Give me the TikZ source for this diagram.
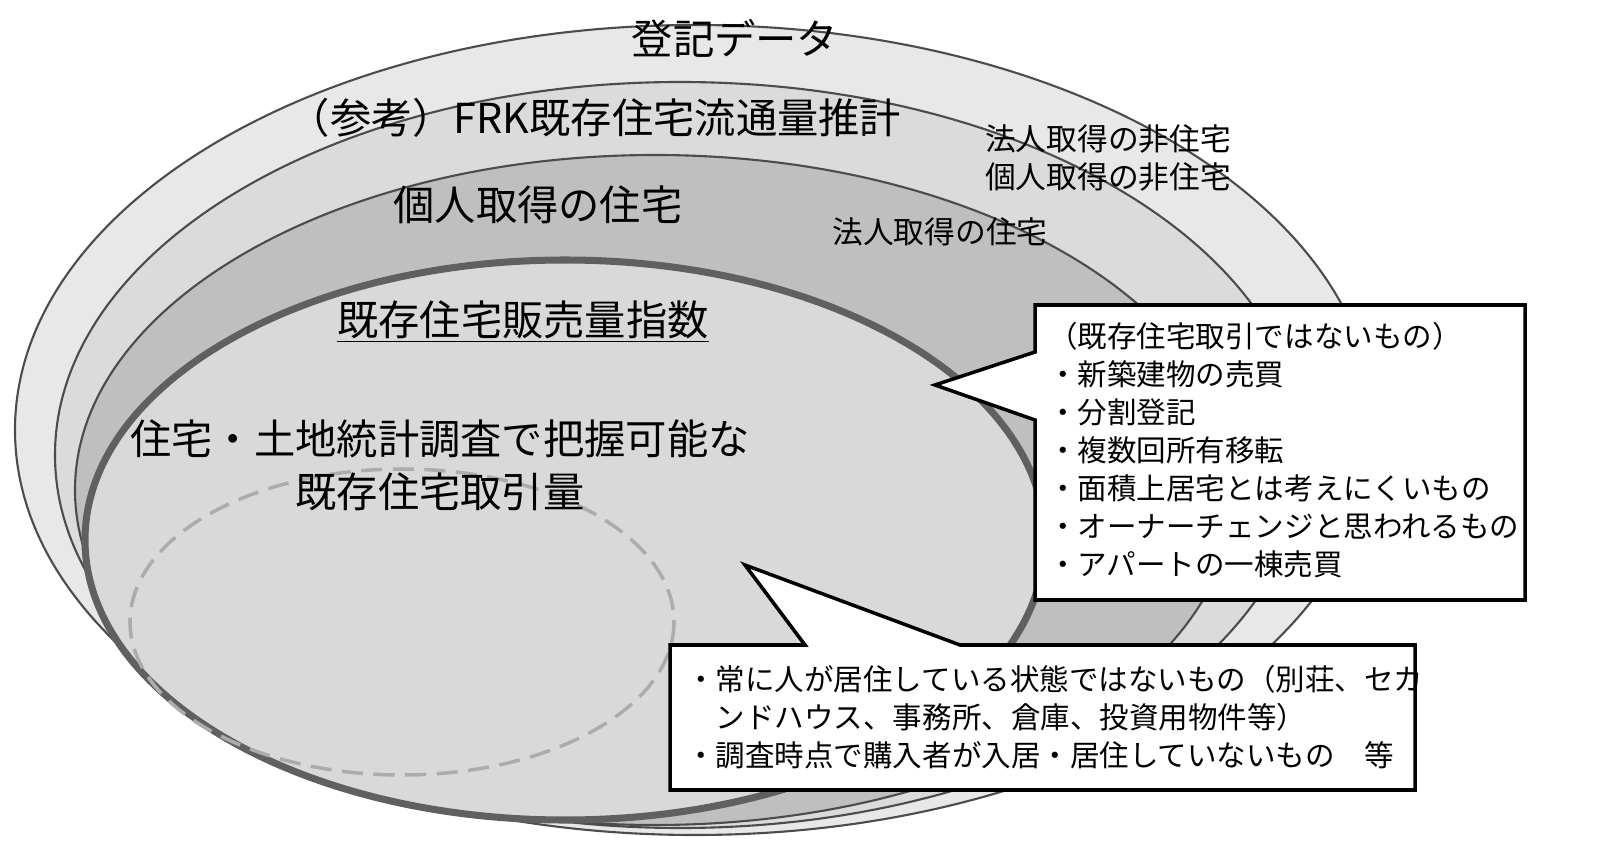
\documentclass[tikz,border=0pt]{standalone}
\usepackage{fontspec}
\setmainfont{Noto Sans CJK JP}
\begin{document}
\begin{tikzpicture}[x=0.02cm,y=-0.02cm,
    ring/.style={draw=gray!60!black, line width=1.2pt},
    lbl/.style={font=\fontsize{17.5}{21.5}\selectfont, inner sep=0pt},
    big/.style={font=\fontsize{23.5}{30}\selectfont, inner sep=0pt},
    note/.style={font=\fontsize{16.8}{21.6}\selectfont, align=left, inner sep=0pt},
    callout/.style={draw=black, line width=2pt, fill=white}]
    \useasboundingbox (0,0) rectangle (1609,858);

    % Rings.
    \filldraw[ring, fill=gray!18] (695,430) ellipse (680 and 405);
    \filldraw[ring, fill=gray!28] (680,455) ellipse (625 and 373);
    \filldraw[ring, fill=gray!50] (655,490) ellipse (580 and 335);
    \filldraw[draw=gray!75!black, line width=4pt, fill=gray!30] (565,540) ellipse (480 and 280);
    \draw[gray!65, line width=2pt, dash pattern=on 12pt off 6pt] (402,622) ellipse (272 and 153);

    % Labels.
    \node[big] (reg) at (735,38) {登記データ};
    \node[big] (frk) at (595,118) {（参考）FRK既存住宅流通量推計};
    \node[big] (kojin) at (538,205) {個人取得の住宅};
    \node[big] (hanbai) at (523,322) {\underline{既存住宅販売量指数}};
    \node[big, align=center] (chosa) at (440,465) {住宅・土地統計調査で把握可能な\\既存住宅取引量};
    \node[lbl, align=left] (hiju) at (1108,158) {法人取得の非住宅\\個人取得の非住宅};
    \node[lbl] (hojin) at (940,232) {法人取得の住宅};

    % Callout right.
    \draw[callout] (1035,305) -- (1525,305) -- (1525,600) -- (1035,600) -- (1035,420)
        -- (935,385) -- (1035,352) -- cycle;
    \node[note, anchor=north west] (nonex) at (1048,322) {（既存住宅取引ではないもの）\\
        ・新築建物の売買\\・分割登記\\・複数回所有移転\\・面積上居宅とは考えにくいもの\\
        ・オーナーチェンジと思われるもの\\・アパートの一棟売買};

    % Callout bottom.
    \draw[callout] (670,645) -- (805,645) -- (745,565) -- (960,645) -- (1415,645)
        -- (1415,790) -- (670,790) -- cycle;
    \node[note, anchor=north west] (kyoju) at (686,665) {・常に人が居住している状態ではないもの（別荘、セカ\\
        \hspace{1em}ンドハウス、事務所、倉庫、投資用物件等）\\・調査時点で購入者が入居・居住していないもの\quad 等};
\end{tikzpicture}
\end{document}
